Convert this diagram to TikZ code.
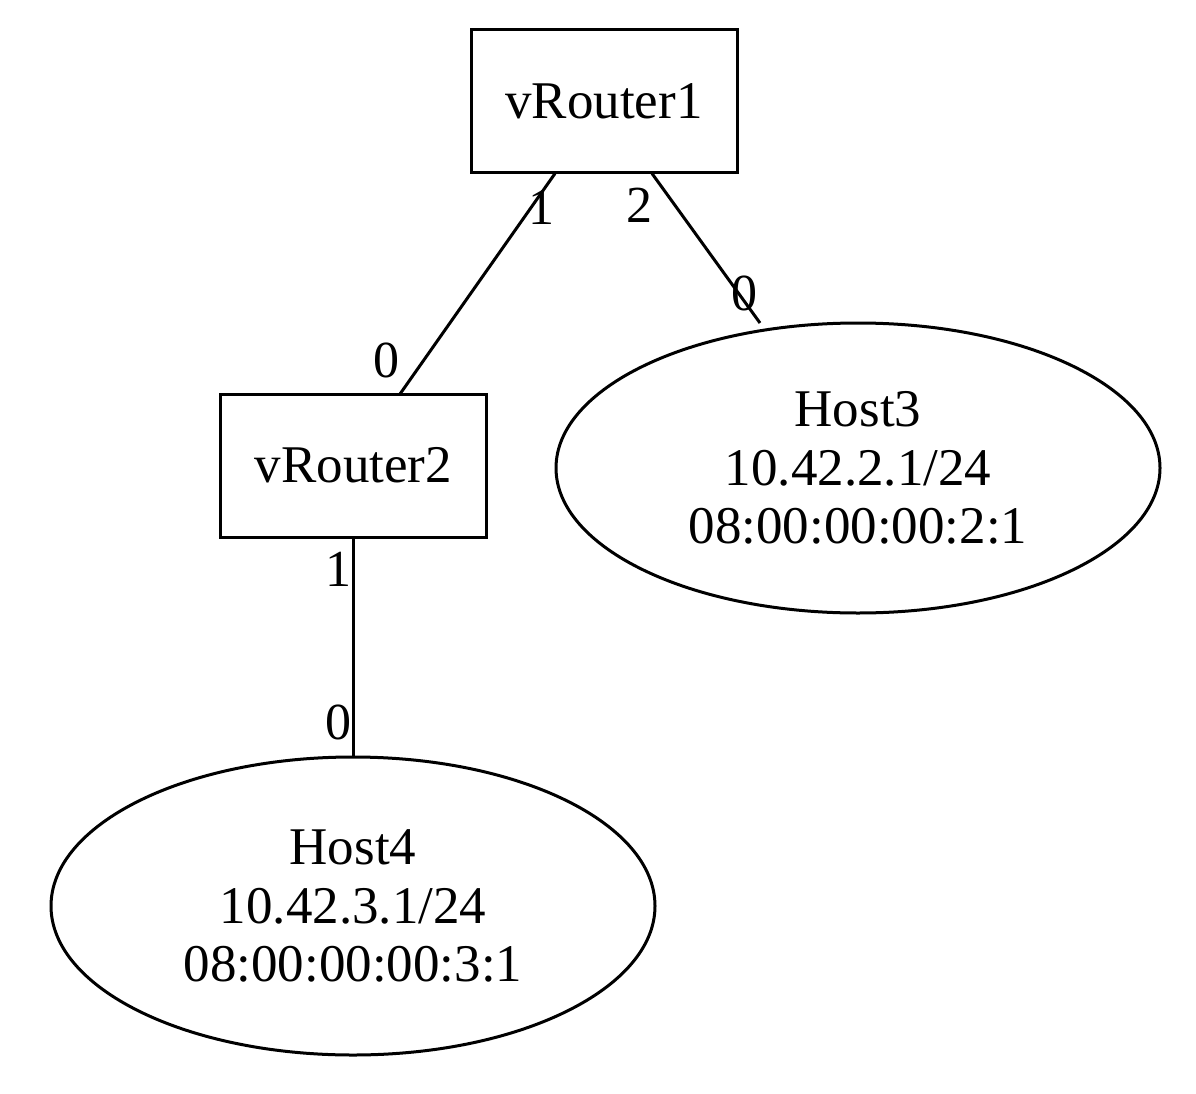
\documentclass[tikz,border=0pt]{standalone}
\usepackage{fontspec}
\setmainfont{Liberation Serif}
\usetikzlibrary{shapes.geometric}
\begin{document}
\begin{tikzpicture}[x=1pt,y=-1pt,
  every node/.style={font=\fontsize{53}{58.5}\selectfont},
  box/.style={draw,line width=3pt,rectangle,minimum width=266pt,minimum height=143pt,inner sep=0pt},
  host/.style={draw,line width=3pt,ellipse,inner sep=0pt,align=center},
  link/.style={line width=3pt},
  port/.style={inner sep=0pt,font=\fontsize{52}{56}\selectfont}]
\useasboundingbox (0,0) rectangle (1196,1094);
\node[box] (r1) at (604,101.5) {vRouter1};
\node[box] (r2) at (353.5,465.5) {vRouter2};
\node[host,minimum width=604pt,minimum height=290pt] (h3) at (858,468) {Host3\\10.42.2.1/24\\08:00:00:00:2:1};
\node[host,minimum width=604pt,minimum height=298pt] (h4) at (353,906) {Host4\\10.42.3.1/24\\08:00:00:00:3:1};
\coordinate (a1) at (555,173.5);
\coordinate (a2) at (400,394);
\coordinate (b1) at (652,173.5);
\coordinate (b2) at (760,323);
\coordinate (c1) at (353,537);
\coordinate (c2) at (353,757);
\draw[link] (a1) -- (a2);
\draw[link] (b1) -- (b2);
\draw[link] (c1) -- (c2);
\node[port] (p1) at (541,207) {1};
\node[port] (p2) at (386,360) {0};
\node[port] (p3) at (639,205) {2};
\node[port] (p4) at (744,293) {0};
\node[port] (p5) at (338,569) {1};
\node[port] (p6) at (338,722) {0};
\end{tikzpicture}
\end{document}
